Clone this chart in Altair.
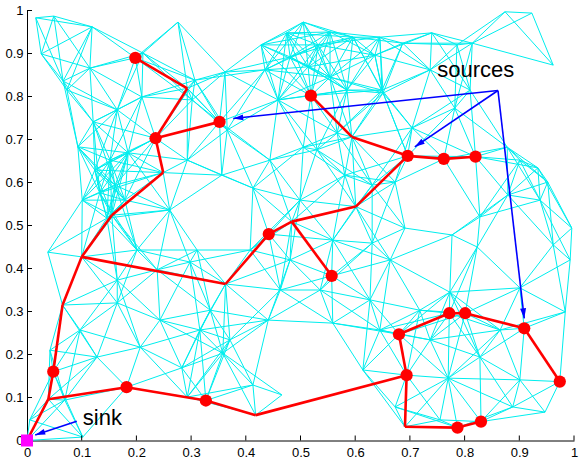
import math
import altair as alt
import pandas as pd

W, H = 547, 430

# ---------------- data ----------------
tick_values = [0, 0.1, 0.2, 0.3, 0.4, 0.5, 0.6, 0.7, 0.8, 0.9, 1]

# background network nodes
cyan_x = [0.016, 0.049, 0.119, 0.026, 0.066, 0.115, 0.212, 0.276, 0.210, 0.121, 0.093, 0.165, 0.302, 0.073,
          0.505, 0.428, 0.362, 0.475, 0.554, 0.596, 0.636, 0.481, 0.459, 0.514, 0.585, 0.649, 0.567, 0.366, 0.307, 0.505, 0.554, 0.532, 0.435,
          0.874, 0.923, 0.962, 0.740, 0.687, 0.786, 0.814, 0.645, 0.782, 0.704, 0.810, 0.651, 0.878, 0.737,
          0.038, 0.101, 0.133, 0.146, 0.261, 0.124, 0.185, 0.201, 0.165, 0.238, 0.311, 0.293, 0.161, 0.179, 0.152,
          0.356, 0.413, 0.530, 0.559, 0.481, 0.631, 0.631, 0.298, 0.408, 0.499, 0.444, 0.581,
          0.934, 0.952, 0.996, 0.879, 0.828, 0.691, 0.823, 0.777, 0.962, 0.993, 0.901, 0.773, 0.673, 0.664, 0.938, 0.901,
          0.005, 0.042, 0.102, 0.128, 0.165, 0.207, 0.283, 0.293, 0.069, 0.097, 0.335, 0.243, 0.371, 0.316,
          0.441, 0.559, 0.614, 0.413, 0.466, 0.358, 0.463, 0.536, 0.627, 0.718, 0.645,
          0.770, 0.888, 0.947, 0.984, 0.828, 0.673, 0.737, 0.865, 0.755, 0.901]
cyan_y = [0.983, 0.987, 0.962, 0.899, 0.836, 0.866, 0.901, 0.973, 0.799, 0.741, 0.683, 0.769, 0.792, 0.815,
          0.973, 0.920, 0.857, 0.948, 0.950, 0.938, 0.896, 0.892, 0.792, 0.869, 0.815, 0.815, 0.715, 0.722, 0.838, 0.682, 0.845, 0.920, 0.862,
          0.997, 0.994, 0.873, 0.948, 0.924, 0.920, 0.924, 0.938, 0.773, 0.727, 0.815, 0.808, 0.682, 0.862,
          0.438, 0.559, 0.576, 0.517, 0.536, 0.629, 0.669, 0.443, 0.373, 0.397, 0.443, 0.652, 0.594, 0.559, 0.652,
          0.617, 0.587, 0.676, 0.466, 0.420, 0.594, 0.459, 0.415, 0.443, 0.559, 0.652, 0.617,
          0.634, 0.601, 0.494, 0.571, 0.520, 0.494, 0.450, 0.478, 0.455, 0.420, 0.355, 0.345, 0.601, 0.420, 0.559, 0.652,
          0.048, 0.210, 0.008, 0.194, 0.320, 0.217, 0.169, 0.101, 0.094, 0.257, 0.303, 0.280, 0.234, 0.257,
          0.280, 0.273, 0.164, 0.129, 0.106, 0.203, 0.350, 0.350, 0.327, 0.303, 0.257,
          0.145, 0.078, 0.066, 0.299, 0.194, 0.078, 0.234, 0.257, 0.048, 0.141]

# source nodes (red dots)
src_names = ["n1", "n2", "n3", "n4", "n5", "n6", "n7", "n8", "n9", "n10",
             "n11", "n12", "n13", "n14", "n15", "n16", "n17", "n18", "n19", "n20"]
src_x = [0.198, 0.235, 0.352, 0.519, 0.696, 0.762, 0.820, 0.442, 0.557, 0.772,
         0.801, 0.909, 0.680, 0.694, 0.974, 0.830, 0.787, 0.048, 0.182, 0.327]
src_y = [0.890, 0.703, 0.741, 0.802, 0.662, 0.655, 0.660, 0.480, 0.383, 0.296,
         0.296, 0.261, 0.247, 0.152, 0.137, 0.044, 0.030, 0.160, 0.124, 0.093]

# relay nodes on the tree (bends of the red path), S = sink
relay_names = ["S", "A", "D", "B", "R", "C", "I", "E", "F", "G", "H", "J", "K"]
relay_x = [0.000, 0.039, 0.065, 0.100, 0.155, 0.249, 0.293, 0.363, 0.484, 0.601, 0.594, 0.418, 0.691]
relay_y = [0.000, 0.096, 0.315, 0.427, 0.524, 0.623, 0.819, 0.364, 0.509, 0.544, 0.706, 0.059, 0.032]

tree_from = ["S", "A", "n18", "D", "B", "R", "C", "n2", "I", "n2", "B", "E", "n8", "F", "F", "G", "n5", "H",
             "n5", "n6", "A", "n19", "n20", "J", "n14", "n13", "n10", "n11", "n12", "n14", "K", "n17"]
tree_to = ["A", "n18", "D", "B", "R", "C", "n2", "I", "n1", "n3", "E", "n8", "F", "n9", "G", "n5", "H", "n4",
           "n6", "n7", "n19", "n20", "J", "n14", "n13", "n10", "n11", "n12", "n15", "K", "n17", "n16"]

# annotation arrows
arrow_x0 = [0.861, 0.861, 0.861, 0.091]
arrow_y0 = [0.814, 0.814, 0.814, 0.045]
arrow_x1 = [0.377, 0.709, 0.909, 0.015]
arrow_y1 = [0.749, 0.683, 0.284, 0.013]

labels = ["sources", "sink"]
label_x = [0.750, 0.102]
label_y = [0.845, 0.036]

# ---------------- derived tables ----------------
pos = {}
for n, x, y in zip(src_names, src_x, src_y):
    pos[n] = (x, y)
for n, x, y in zip(relay_names, relay_x, relay_y):
    pos[n] = (x, y)

all_pts = list(zip(cyan_x, cyan_y)) + list(zip(src_x, src_y)) + list(zip(relay_x, relay_y))


def pdist(p, q):
    return math.hypot((p[0] - q[0]) * W, (p[1] - q[1]) * H)


R = 72
edge_set = set()
npts = len(all_pts)
for i in range(npts):
    ds = sorted((pdist(all_pts[i], all_pts[j]), j) for j in range(npts) if j != i)
    for k, (d, j) in enumerate(ds):
        if d < R or k < 3:
            edge_set.add((min(i, j), max(i, j)))
edges = pd.DataFrame([
    {"x": all_pts[i][0], "y": all_pts[i][1], "x2": all_pts[j][0], "y2": all_pts[j][1]}
    for i, j in sorted(edge_set)
])

tree = pd.DataFrame([
    {"x": pos[a][0], "y": pos[a][1], "x2": pos[b][0], "y2": pos[b][1]}
    for a, b in zip(tree_from, tree_to)
])
srcs = pd.DataFrame({"x": src_x, "y": src_y})
sink = pd.DataFrame({"x": [relay_x[0]], "y": [relay_y[0]]})

arrows = pd.DataFrame({"x": arrow_x0, "y": arrow_y0, "x2": arrow_x1, "y2": arrow_y1})
heads = pd.DataFrame({
    "x": arrow_x1, "y": arrow_y1,
    "angle": [(math.degrees(math.atan2((x1 - x0) * W, (y1 - y0) * H)) + 360) % 360
              for x0, y0, x1, y1 in zip(arrow_x0, arrow_y0, arrow_x1, arrow_y1)],
})
texts = pd.DataFrame({"label": labels, "x": label_x, "y": label_y})
ticks = pd.DataFrame({"v": tick_values})

# ---------------- chart ----------------
FONT = "Liberation Sans"
xs = alt.Scale(domain=[0, 1], nice=False, zero=False)
ys = alt.Scale(domain=[0, 1], nice=False, zero=False)
ax_x = alt.Axis(values=tick_values, format=".1~f", tickSize=0, grid=False, title=None,
                labelFont=FONT, labelFontSize=13, labelColor="black", labelPadding=6,
                domainColor="black", domainWidth=1, labelFlush=False)
ax_y = alt.Axis(values=tick_values, format=".1~f", tickSize=0, grid=False, title=None,
                labelFont=FONT, labelFontSize=13, labelColor="black", labelPadding=4,
                domainColor="black", domainWidth=1, labelFlush=False)


def X(f="x"):
    return alt.X(f"{f}:Q", scale=xs, axis=ax_x)


def Y(f="y"):
    return alt.Y(f"{f}:Q", scale=ys, axis=ax_y)


cyan_layer = alt.Chart(edges).mark_rule(color="#00EEEE", strokeWidth=1).encode(
    x=X(), y=Y(), x2="x2:Q", y2="y2:Q")

red_lines = alt.Chart(tree).mark_rule(color="#FF0000", strokeWidth=2.6).encode(
    x=X(), y=Y(), x2="x2:Q", y2="y2:Q")

red_pts = alt.Chart(srcs).mark_circle(color="#FF0000", size=150, opacity=1).encode(x=X(), y=Y())

blue_lines = alt.Chart(arrows).mark_rule(color="#0000FF", strokeWidth=1.6).encode(
    x=X(), y=Y(), x2="x2:Q", y2="y2:Q")

blue_heads = alt.Chart(heads).mark_point(
    shape="M0,0L0.6,2L-0.6,2Z", filled=True, color="#0000FF", size=100, opacity=1
).encode(x=X(), y=Y(), angle=alt.Angle("angle:Q", scale=None))

sink_pt = alt.Chart(sink).mark_square(color="#FF00FF", size=144, opacity=1).encode(x=X(), y=Y())

text_layer = alt.Chart(texts).mark_text(
    align="left", baseline="alphabetic", font=FONT, fontSize=22, color="black"
).encode(x=X(), y=Y(), text="label:N")

xticks = alt.Chart(ticks).mark_rule(color="black", strokeWidth=1).encode(
    x=alt.X("v:Q", scale=xs, axis=ax_x), y=alt.value(H), y2=alt.value(H - 5))
yticks = alt.Chart(ticks).mark_rule(color="black", strokeWidth=1).encode(
    y=alt.Y("v:Q", scale=ys, axis=ax_y), x=alt.value(0), x2=alt.value(5))

chart = alt.layer(
    cyan_layer, red_lines, red_pts, blue_lines, blue_heads, text_layer, xticks, yticks, sink_pt
).properties(
    width=W, height=H,
    autosize=alt.AutoSizeParams(type="none"),
    padding={"left": 27, "top": 10.5, "right": 5, "bottom": 19.5},
).configure_view(stroke=None)

chart.save("out.html", embed_options={"renderer": "svg", "actions": False})
